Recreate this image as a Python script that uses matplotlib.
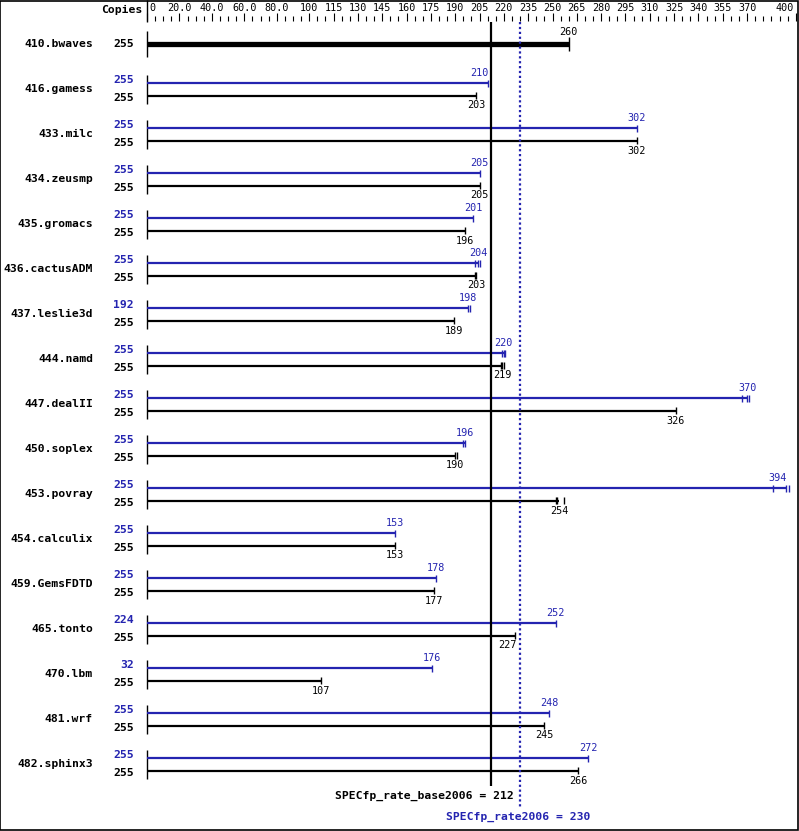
import numpy as np
import matplotlib.pyplot as plt

benchmarks = ["410.bwaves", "416.gamess", "433.milc", "434.zeusmp", "435.gromacs",
              "436.cactusADM", "437.leslie3d", "444.namd", "447.dealII", "450.soplex",
              "453.povray", "454.calculix", "459.GemsFDTD", "465.tonto", "470.lbm",
              "481.wrf", "482.sphinx3"]
base_copies = [255] * 17
peak_copies = [None, 255, 255, 255, 255, 255, 192, 255, 255, 255, 255, 255, 255, 224, 32, 255, 255]
base_ratio = [260, 203, 302, 205, 196, 203, 189, 219, 326, 190, 254, 153, 177, 227, 107, 245, 266]
peak_ratio = [None, 210, 302, 205, 201, 204, 198, 220, 370, 196, 394, 153, 178, 252, 176, 248, 272]
# individual run results (end ticks)
base_runs = [[260], [203], [302], [205], [196], [202, 203], [189], [218, 219, 220], [326],
             [190, 191], [252, 253, 257], [153], [177], [227], [107], [245], [266]]
peak_runs = [[], [210], [302], [205], [201], [202, 204, 205], [198, 199], [219, 220, 221],
             [367, 370, 371], [195, 196], [386, 394, 396], [153], [178], [252], [176], [248], [272]]
base_mean = 212
peak_mean = 230
tick_labels = [0, 20, 40, 60, 80, 100, 115, 130, 145, 160, 175, 190, 205, 220, 235, 250,
               265, 280, 295, 310, 325, 340, 355, 370, 400]

BLUE = "#2424b0"
X0, PPU = 147, 1.622  # pixel of zero, pixels per unit
W, H = 799, 831
mono = "DejaVu Sans Mono"

fig = plt.figure(figsize=(W / 100, H / 100), dpi=100)
ax = fig.add_axes([0, 0, 1, 1])
ax.set_xlim(-X0 / PPU, (W - X0) / PPU)
ax.set_ylim(H, 0)
ax.axis("off")

u = 1 / PPU  # one pixel in data units

# header
ax.text(-5 * u, 10, "Copies", ha="right", va="center", fontsize=8.2, fontweight="bold", family=mono)
ax.vlines(0, 0, 22, color="black", lw=1)
for v in np.arange(0, 401, 5):
    major = v in tick_labels
    ax.vlines(v, 13 if major else 16, 21, color="black", lw=0.8)
for v in tick_labels:
    s = f"{v:.1f}" if 0 < v < 100 else str(v)
    ha = "left" if v == 0 else ("right" if v == 400 else "center")
    xx = v + 2 * u if v == 0 else (v - 2 * u if v == 400 else v)
    ax.text(xx, 8, s, ha=ha, va="center", fontsize=7.3, family=mono)


def val_label(val, y, color):
    half = 9 * u
    ha, xx = "center", val
    if (val < base_mean < val + half) or (val < peak_mean < val + half) or val + half > 397:
        ha, xx = "right", val + 1 * u
    ax.text(xx, y, str(val), ha=ha, va="center", fontsize=7.3, family=mono, color=color)


name_x = -54 * u
copy_x = -13 * u
for i, name in enumerate(benchmarks):
    if peak_ratio[i] is None:
        yb = 44
        ax.text(name_x, yb, name, ha="right", va="center", fontsize=8.2, fontweight="bold", family=mono)
        ax.text(copy_x, yb, str(base_copies[i]), ha="right", va="center", fontsize=8.2,
                fontweight="bold", family=mono)
        ax.vlines(0, yb - 13, yb + 13, color="black", lw=1)
        ax.hlines(yb, 0, base_ratio[i], color="black", lw=3.8)
        ax.vlines(base_runs[i], yb - 7, yb + 7, color="black", lw=1)
        ax.text(base_ratio[i], yb - 12, str(base_ratio[i]), ha="center", va="center",
                fontsize=7.3, family=mono)
        continue
    yp = 83 + 45 * (i - 1)
    yb = yp + 12.5
    ax.text(name_x, yp + 6, name, ha="right", va="center", fontsize=8.2, fontweight="bold", family=mono)
    ax.text(copy_x, yp - 3, str(peak_copies[i]), ha="right", va="center", fontsize=8.2,
            fontweight="bold", family=mono, color=BLUE)
    ax.text(copy_x, yb + 2.5, str(base_copies[i]), ha="right", va="center", fontsize=8.2,
            fontweight="bold", family=mono)
    ax.vlines(0, yp - 8, yb + 8, color="black", lw=1)
    ax.hlines(yp, 0, peak_ratio[i], color=BLUE, lw=1.6)
    ax.vlines(peak_runs[i], yp - 3.5, yp + 3.5, color=BLUE, lw=1)
    ax.hlines(yb, 0, base_ratio[i], color="black", lw=1.6)
    ax.vlines(base_runs[i], yb - 3.5, yb + 3.5, color="black", lw=1)
    val_label(peak_ratio[i], yp - 10, BLUE)
    val_label(base_ratio[i], yb + 10, "black")

# overall lines
ax.vlines(base_mean, 22, 786, color="black", lw=1.6, zorder=5)
ax.vlines(peak_mean, 22, 808, color=BLUE, lw=1.6, linestyles=(0, (1, 1.2)), zorder=5)
ax.text(base_mean + 23 * u, 796, f"SPECfp_rate_base2006 = {base_mean}", ha="right", va="center",
        fontsize=8.2, fontweight="bold", family=mono)
ax.text(peak_mean - 74 * u, 817, f"SPECfp_rate2006 = {peak_mean}", ha="left", va="center",
        fontsize=8.2, fontweight="bold", family=mono, color=BLUE)

# frame
ax.add_patch(plt.Rectangle((-X0 / PPU + 0.3 * u, 0.5), (W - 1.3) * u, H - 1.5,
                           fill=False, edgecolor="black", lw=1.2))

fig.savefig("out.png", dpi=100)
